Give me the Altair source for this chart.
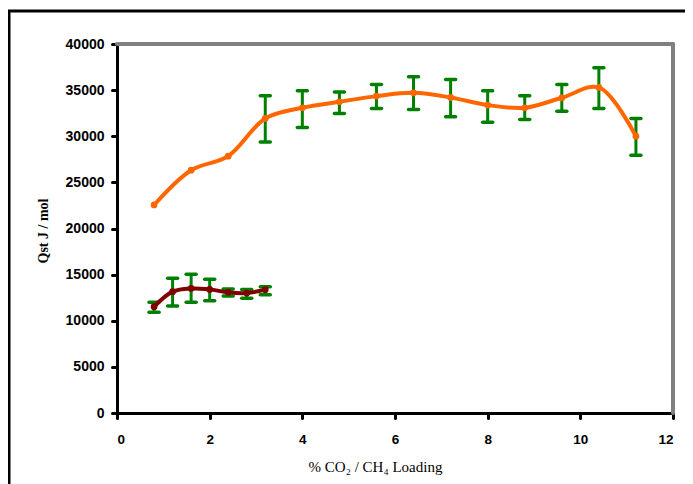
import altair as alt
import pandas as pd

# Orange series (CO2)
x_orange = [0.8, 1.6, 2.4, 3.2, 4.0, 4.8, 5.6, 6.4, 7.2, 8.0, 8.8, 9.6, 10.4, 11.2]
y_orange = [22550, 26320, 27840, 31930, 33090, 33740, 34350, 34710, 34210, 33380, 33090, 34170, 35290, 30010]
lo_orange = [None, None, None, 29390, 30950, 32470, 33010, 32900, 32110, 31530, 31820, 32720, 33010, 27950]
hi_orange = [None, None, None, 34390, 34930, 34790, 35620, 36450, 36160, 34930, 34390, 35620, 37430, 31930]

# Dark red series (CH4)
x_red = [0.8, 1.2, 1.6, 2.0, 2.4, 2.8, 3.2]
y_red = [11520, 13150, 13500, 13400, 13080, 13000, 13370]
lo_red = [10920, 11600, 12000, 12170, 12680, 12430, 12820]
hi_red = [12000, 14600, 15030, 14490, 13440, 13400, 13690]

x_ticks = [0, 2, 4, 6, 8, 10, 12]
y_ticks = [0, 5000, 10000, 15000, 20000, 25000, 30000, 35000, 40000]

df = pd.concat([
    pd.DataFrame({"series": "CO2", "x": x_orange, "y": y_orange, "lo": lo_orange, "hi": hi_orange}),
    pd.DataFrame({"series": "CH4", "x": x_red, "y": y_red, "lo": lo_red, "hi": hi_red}),
], ignore_index=True)
err = df.dropna(subset=["lo", "hi"])

W, H = 556, 369

xs = alt.Scale(domain=[0, 12], nice=False)
ys = alt.Scale(domain=[0, 40000], nice=False)
cs = alt.Scale(domain=["CO2", "CH4"], range=["#FF6600", "#800000"])

xax = alt.Axis(values=x_ticks, title="% CO₂ / CH₄ Loading", grid=False,
               titleX=258, titleY=53, titleBaseline="middle", titleAnchor="start",
               titleAlign="center", titleFontSize=15, titleFontWeight="normal",
               labelFontSize=13.5, labelPadding=14)
yax = alt.Axis(values=y_ticks, format="d", title="Qst  J / mol", grid=False,
               titleX=-74, titleY=H / 2 + 2, titleBaseline="middle", titleAlign="center",
               titleAngle=-90, titleFontSize=14, titleFontWeight="bold",
               labelFontSize=14, labelPadding=8)

X = alt.X("x:Q", scale=xs, axis=xax)
Y = alt.Y("y:Q", scale=ys, axis=yax)

bars = alt.Chart(err).mark_rule(color="#008000", strokeWidth=3).encode(
    x=alt.X("x:Q", scale=xs), y=alt.Y("lo:Q", scale=ys), y2="hi:Q")
caps_lo = alt.Chart(err).mark_rule(color="#008000", strokeWidth=3.5, strokeCap="round",
                                   xOffset=-5, x2Offset=5).encode(
    x=alt.X("x:Q", scale=xs), x2="x:Q", y=alt.Y("lo:Q", scale=ys))
caps_hi = alt.Chart(err).mark_rule(color="#008000", strokeWidth=3.5, strokeCap="round",
                                   xOffset=-5, x2Offset=5).encode(
    x=alt.X("x:Q", scale=xs), x2="x:Q", y=alt.Y("hi:Q", scale=ys))

line = alt.Chart(df).mark_line(interpolate="catmull-rom", strokeWidth=4).encode(
    x=X, y=Y, color=alt.Color("series:N", scale=cs, legend=None), detail="series:N")
pts = alt.Chart(df).mark_circle(size=45, opacity=1).encode(
    x=alt.X("x:Q", scale=xs), y=alt.Y("y:Q", scale=ys),
    color=alt.Color("series:N", scale=cs, legend=None))

one = pd.DataFrame({"a": [0]})
gray_top = alt.Chart(one).mark_rule(color="#808080", strokeWidth=4, strokeCap="round").encode(
    x=alt.value(0), x2=alt.value(W), y=alt.value(0))
gray_right = alt.Chart(one).mark_rule(color="#808080", strokeWidth=4, strokeCap="round").encode(
    x=alt.value(W), y=alt.value(0), y2=alt.value(H))
outer_left = alt.Chart(one).mark_rule(color="#000000", strokeWidth=3).encode(
    x=alt.value(-108), y=alt.value(-34), y2=alt.value(H + 100))
outer_top = alt.Chart(one).mark_rule(color="#000000", strokeWidth=3).encode(
    x=alt.value(-109.5), x2=alt.value(W + 100), y=alt.value(-33))

chart = alt.layer(
    outer_left, outer_top, gray_top, gray_right, bars, caps_lo, caps_hi, line, pts
).properties(
    width=W, height=H,
    autosize=alt.AutoSizeParams(type="none"),
    padding={"left": 109, "top": 36, "right": 12, "bottom": 75},
).configure_view(stroke=None).configure_axis(
    domainColor="black", domainWidth=3, domainCap="round",
    tickColor="black", tickWidth=3, tickSize=5, tickCap="round",
    labelFont="Liberation Sans", labelFontWeight="bold", labelColor="black",
    titleFont="Liberation Serif", titleColor="black",
    zindex=1,
)

chart.save("out.html", embed_options={"renderer": "svg", "actions": False})
